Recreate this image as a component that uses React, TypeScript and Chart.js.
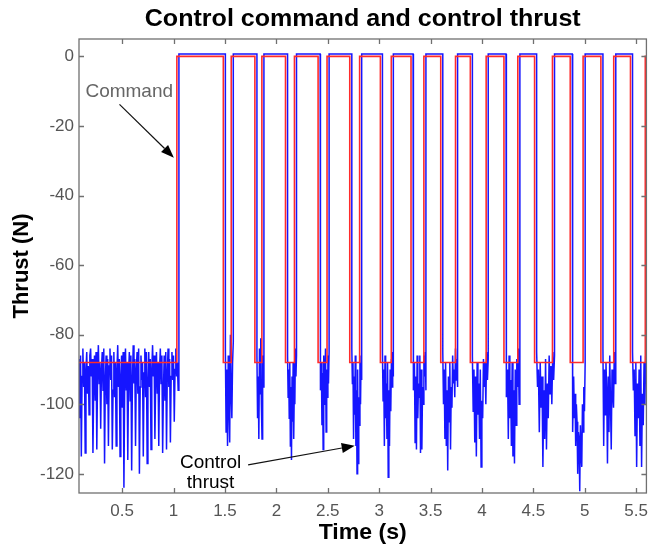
import React, { useEffect, useRef } from 'react';
import { Chart, registerables } from 'chart.js';

Chart.register(...registerables);

// ---- axis ranges & ticks ----
const X_MIN = 0.08;
const X_MAX = 5.6;
const Y_MIN = -125.5;
const Y_MAX = 5;
const xTickValues = [0.5, 1, 1.5, 2, 2.5, 3, 3.5, 4, 4.5, 5, 5.5];
const yTickValues = [-120, -100, -80, -60, -40, -20, 0];

// ---- control command (square wave) ----
const commandLow = -88;
const commandHigh = 0;
const commandSwitchTimes = [
  1.032, 1.484, 1.561, 1.791, 1.859, 2.089, 2.176, 2.406, 2.493, 2.714,
  2.81, 3.012, 3.118, 3.31, 3.435, 3.599, 3.743, 3.887, 4.041, 4.214,
  4.349, 4.512, 4.686, 4.859, 4.984, 5.157, 5.282, 5.445, 5.589,
];

// ---- control thrust (measured) ----
const thrustLag = 0.02;
const thrustHighLevel = 0.7;
const thrustSeg0 = [
  -87, -104, -86, -115, -92, -84, -95, -88, -114, -90,
  -85, -97, -89, -103, -86, -84, -92, -87, -114, -95,
  -86, -99, -85, -113, -91, -83, -94, -88, -107, -90,
  -85, -96, -84, -117, -93, -86, -100, -87, -112, -89,
  -84, -93, -86, -113, -96, -85, -98, -88, -112, -90,
  -83, -95, -87, -115, -92, -86, -101, -85, -124, -94,
  -84, -96, -88, -116, -91, -85, -99, -86, -119, -93,
  -83, -94, -87, -112, -90, -85, -97, -84, -120, -95,
  -86, -93, -88, -115, -91, -84, -98, -85, -117, -94,
  -85, -95, -87, -113, -90, -83, -92, -86, -110, -93,
  -85, -97, -88, -112, -90, -84, -94, -86, -114, -96,
  -86, -99, -85, -113, -91, -84, -95, -87, -111, -92,
  -85, -93, -86, -105, -90, -84, -92, -88, -96, -90,
];
const thrustSeg1 = [-84, -108, -90, -112, -86, -100, -111, -80, -96, -104, -88, -82];
const thrustSeg2 = [-86, -104, -92, -110, -84, -97, -81, -100, -110, -86, -95, -83];
const thrustSeg3 = [-86, -98, -90, -104, -88, -112, -95, -116, -92, -105, -88, -110, -96, -100, -84, -92, -86];
const thrustSeg4 = [-85, -96, -88, -106, -91, -113, -86, -100, -92, -84, -108, -90, -98, -86, -94, -85];
const thrustSeg5 = [-84, -94, -88, -110, -92, -103, -86, -112, -96, -120, -90, -117, -98, -106, -88, -100, -86, -93];
const thrustSeg6 = [-85, -99, -90, -112, -86, -104, -94, -110, -88, -121, -96, -112, -90, -102, -87, -95, -85, -92];
const thrustSeg7 = [-84, -96, -88, -111, -92, -113, -86, -104, -94, -98, -86, -114, -90, -113, -95, -100, -86, -92, -85, -96];
const thrustSeg8 = [-85, -100, -90, -110, -88, -112, -96, -119, -92, -105, -88, -113, -95, -101, -86, -94, -90, -98, -84, -93, -87, -95];
const thrustSeg9 = [-86, -102, -90, -111, -92, -115, -88, -103, -94, -110, -90, -118, -99, -104, -87, -95, -88, -100, -85, -93, -87];
const thrustSeg10 = [-85, -98, -90, -110, -86, -104, -93, -112, -88, -115, -96, -117, -90, -106, -87, -95, -84, -100, -86];
const thrustSeg11 = [-85, -95, -90, -108, -88, -101, -92, -118, -96, -110, -87, -113, -94, -104, -86, -97, -89, -100, -85, -93, -86];
const thrustSeg12 = [-86, -108, -92, -104, -97, -112, -100, -105, -120, -108, -110, -125, -106, -114, -118, -100, -108, -95, -102, -88];
const thrustSeg13 = [-84, -112, -90, -103, -88, -96, -117, -92, -108, -86, -100, -113, -90, -97, -101, -85, -94, -86];
const thrustSeg14 = [-85, -96, -90, -109, -88, -118, -94, -104, -90, -112, -86, -118, -97, -106, -88, -100, -86, -94, -85];
const thrustLowSegments = [
  thrustSeg0, thrustSeg1, thrustSeg2, thrustSeg3, thrustSeg4, thrustSeg5, thrustSeg6, thrustSeg7,
  thrustSeg8, thrustSeg9, thrustSeg10, thrustSeg11, thrustSeg12, thrustSeg13, thrustSeg14,
];

// ---- texts ----
const titleText = 'Control command and control thrust';
const xTitle = 'Time (s)';
const yTitle = 'Thrust (N)';
const commandLabel = 'Command';
const thrustLabelLines = ['Control', 'thrust'];

const FONT = '"Liberation Sans", Arial, Helvetica, sans-serif';

function buildCommand() {
  const pts: { x: number; y: number }[] = [];
  let level = commandLow;
  pts.push({ x: X_MIN, y: level });
  for (const t of commandSwitchTimes) {
    pts.push({ x: t, y: level });
    level = level === commandLow ? commandHigh : commandLow;
    pts.push({ x: t, y: level });
  }
  pts.push({ x: X_MAX, y: level });
  return pts;
}

function buildThrust() {
  const lows: number[][] = [[X_MIN, commandSwitchTimes[0]]];
  for (let i = 1; i + 1 < commandSwitchTimes.length; i += 2) {
    lows.push([commandSwitchTimes[i], commandSwitchTimes[i + 1]]);
  }
  const pts: { x: number; y: number }[] = [];
  lows.forEach(([s, e], k) => {
    const vals = thrustLowSegments[k];
    const s2 = k === 0 ? s : s + thrustLag;
    const e2 = e + thrustLag;
    if (k > 0) pts.push({ x: s2, y: thrustHighLevel });
    vals.forEach((v, i) => pts.push({ x: s2 + ((e2 - s2) * i) / (vals.length - 1), y: v }));
    pts.push({ x: e2, y: thrustHighLevel });
  });
  pts.push({ x: X_MAX + thrustLag, y: thrustHighLevel });
  return pts;
}

function arrow(ctx: CanvasRenderingContext2D, x1: number, y1: number, x2: number, y2: number) {
  const ang = Math.atan2(y2 - y1, x2 - x1);
  const hl = 13;
  const hw = 5;
  const bx = x2 - hl * Math.cos(ang);
  const by = y2 - hl * Math.sin(ang);
  ctx.beginPath();
  ctx.moveTo(x1, y1);
  ctx.lineTo(bx, by);
  ctx.stroke();
  ctx.beginPath();
  ctx.moveTo(x2, y2);
  ctx.lineTo(bx + hw * Math.sin(ang), by - hw * Math.cos(ang));
  ctx.lineTo(bx - hw * Math.sin(ang), by + hw * Math.cos(ang));
  ctx.closePath();
  ctx.fill();
}

function stretchedText(ctx: CanvasRenderingContext2D, text: string, x: number, y: number, sx: number) {
  ctx.save();
  ctx.translate(x, y);
  ctx.scale(sx, 1);
  ctx.fillText(text, 0, 0);
  ctx.restore();
}

const decorPlugin = {
  id: 'decor',
  afterDraw(chart: any) {
    const { ctx, chartArea: a, scales } = chart;
    const xs = scales.x;
    const ys = scales.y;
    ctx.save();
    // frame
    ctx.strokeStyle = '#707070';
    ctx.lineWidth = 1.3;
    ctx.strokeRect(a.left, a.top, a.right - a.left, a.bottom - a.top);
    // inward ticks
    const tl = 5;
    ctx.beginPath();
    xTickValues.forEach((v) => {
      const px = Math.round(xs.getPixelForValue(v)) + 0.5;
      ctx.moveTo(px, a.bottom);
      ctx.lineTo(px, a.bottom - tl);
      ctx.moveTo(px, a.top);
      ctx.lineTo(px, a.top + tl);
    });
    yTickValues.forEach((v) => {
      const py = Math.round(ys.getPixelForValue(v)) + 0.5;
      ctx.moveTo(a.left, py);
      ctx.lineTo(a.left + tl, py);
      ctx.moveTo(a.right, py);
      ctx.lineTo(a.right - tl, py);
    });
    ctx.stroke();

    const cx = (a.left + a.right) / 2;
    const cy = (a.top + a.bottom) / 2;
    // title
    ctx.fillStyle = '#000';
    ctx.textAlign = 'center';
    ctx.textBaseline = 'alphabetic';
    ctx.font = `bold 23px ${FONT}`;
    stretchedText(ctx, titleText, cx, 26, 1.09);
    // x title
    ctx.font = `bold 22px ${FONT}`;
    stretchedText(ctx, xTitle, cx, 539, 1.05);
    // y title
    ctx.save();
    ctx.translate(28, cy);
    ctx.rotate(-Math.PI / 2);
    ctx.fillText(yTitle, 0, 0);
    ctx.restore();

    // annotations
    ctx.font = `19px ${FONT}`;
    ctx.fillStyle = '#666';
    ctx.textAlign = 'right';
    ctx.fillText(commandLabel, xs.getPixelForValue(0.995), ys.getPixelForValue(-11.8));
    ctx.fillStyle = '#000';
    ctx.strokeStyle = '#111';
    ctx.lineWidth = 1.2;
    arrow(ctx, xs.getPixelForValue(0.474), ys.getPixelForValue(-13.8), xs.getPixelForValue(1.003), ys.getPixelForValue(-29.1));
    ctx.textAlign = 'center';
    ctx.fillText(thrustLabelLines[0], xs.getPixelForValue(1.36), ys.getPixelForValue(-118.3));
    ctx.fillText(thrustLabelLines[1], xs.getPixelForValue(1.36), ys.getPixelForValue(-124.2));
    arrow(ctx, xs.getPixelForValue(1.725), ys.getPixelForValue(-117.4), xs.getPixelForValue(2.762), ys.getPixelForValue(-111.9));
    ctx.restore();
  },
};

export default function App() {
  const ref = useRef<HTMLCanvasElement | null>(null);
  useEffect(() => {
    if (!ref.current) return;
    const chart = new Chart(ref.current, {
      type: 'line',
      data: {
        datasets: [
          {
            label: 'Command',
            data: buildCommand(),
            borderColor: '#ff2b2b',
            borderWidth: 1.6,
            pointRadius: 0,
            tension: 0,
            fill: false,
          },
          {
            label: 'Control thrust',
            data: buildThrust(),
            borderColor: '#1515ff',
            borderWidth: 1.5,
            pointRadius: 0,
            tension: 0,
            fill: false,
          },
        ],
      },
      options: {
        responsive: false,
        animation: false,
        layout: { padding: { top: 39, right: 2.5, left: 0, bottom: 0 } },
        plugins: { legend: { display: false }, title: { display: false }, tooltip: { enabled: false } },
        scales: {
          x: {
            type: 'linear',
            min: X_MIN,
            max: X_MAX,
            grid: { display: false, drawTicks: false },
            border: { display: false },
            afterBuildTicks: (s: any) => {
              s.ticks = xTickValues.map((v) => ({ value: v }));
            },
            afterFit: (s: any) => {
              s.height = 54;
            },
            ticks: {
              autoSkip: false,
              maxRotation: 0,
              padding: 8,
              color: '#555',
              font: { family: FONT, size: 17 },
              callback: (v: any) => String(v),
            },
          },
          y: {
            type: 'linear',
            min: Y_MIN,
            max: Y_MAX,
            grid: { display: false, drawTicks: false },
            border: { display: false },
            afterBuildTicks: (s: any) => {
              s.ticks = yTickValues.map((v) => ({ value: v }));
            },
            afterFit: (s: any) => {
              s.width = 79;
            },
            ticks: {
              autoSkip: false,
              padding: 5,
              color: '#555',
              font: { family: FONT, size: 17 },
              callback: (v: any) => String(v),
            },
          },
        },
      },
      plugins: [decorPlugin],
    });
    return () => chart.destroy();
  }, []);
  return (
    <div style={{ position: 'absolute', left: 0, top: 0, width: 656, height: 547, background: '#fff' }}>
      <canvas ref={ref} width={656} height={547} style={{ display: 'block' }} />
    </div>
  );
}
